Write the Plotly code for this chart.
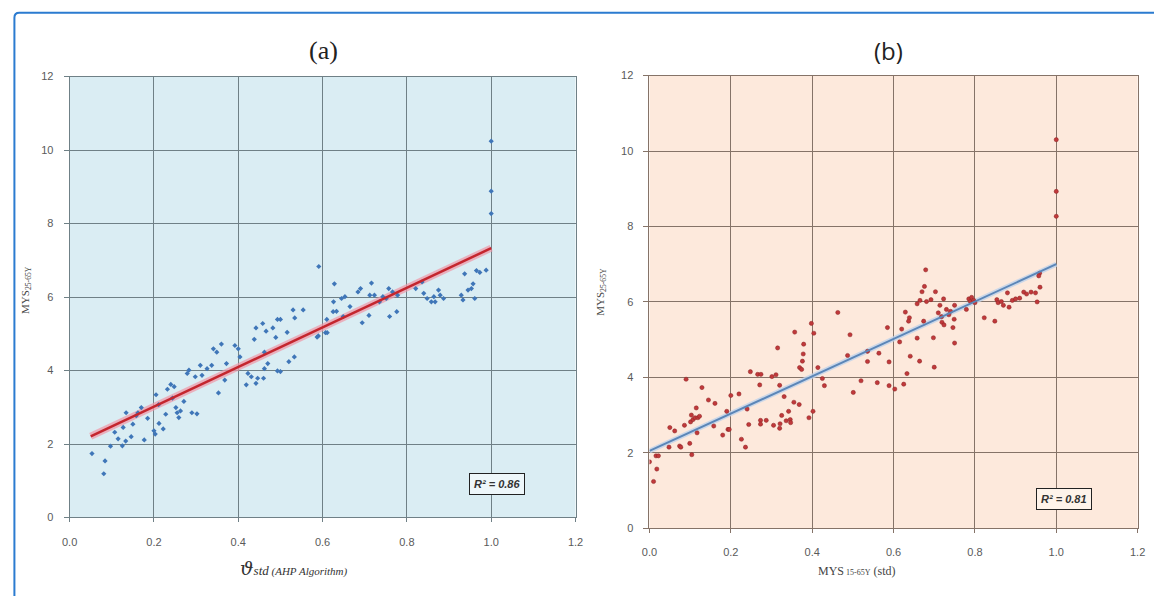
import plotly.graph_objects as go

W, H = 1154, 596

# ---------------- Panel (a) data ----------------
a_x = [0.053, 0.084, 0.081, 0.097, 0.115, 0.125, 0.133, 0.146, 0.107, 0.127, 0.134, 0.150, 0.158, 0.170,
       0.162, 0.177, 0.185, 0.200, 0.203, 0.205, 0.212, 0.222, 0.228, 0.211, 0.232, 0.240, 0.248, 0.244,
       0.252, 0.255, 0.259, 0.263, 0.271, 0.290, 0.302, 0.283, 0.279, 0.298, 0.310, 0.314, 0.326, 0.337,
       0.341, 0.349, 0.360, 0.353, 0.368, 0.372, 0.392, 0.400, 0.404, 0.423, 0.419, 0.431, 0.446, 0.442,
       0.460, 0.462, 0.470, 0.438, 0.442, 0.458, 0.466, 0.482, 0.493, 0.489, 0.493, 0.462,
       0.520, 0.533, 0.500, 0.516, 0.534, 0.530, 0.554, 0.590, 0.607, 0.625, 0.694, 0.710, 0.759, 0.776,
       0.500, 0.591, 0.628, 0.626, 0.633, 0.610, 0.611, 0.587, 0.645, 0.653, 0.665, 0.649, 0.684, 0.690,
       0.716, 0.712, 0.723, 0.735, 0.743, 0.751, 0.757, 0.766, 0.778, 0.821, 0.836, 0.840, 0.848, 0.858,
       0.864, 0.867, 0.875, 0.879, 0.887, 0.929, 0.933, 0.937, 0.945, 0.953, 0.957, 0.961, 0.965, 0.973,
       0.988, 1.000, 1.000, 1.000]
a_y = [1.74, 1.54, 1.19, 1.94, 2.14, 1.95, 2.08, 2.20, 2.32, 2.45, 2.85, 2.54, 2.77, 2.99,
       2.85, 2.11, 2.70, 2.36, 2.27, 3.34, 2.56, 2.41, 2.81, 3.07, 3.49, 3.62, 3.56, 3.25,
       2.99, 2.85, 2.72, 2.90, 3.16, 2.85, 2.82, 4.01, 3.92, 3.83, 4.14, 3.87, 4.05, 4.14,
       4.59, 4.50, 4.72, 3.39, 3.74, 4.19, 4.68, 4.59, 4.37, 3.92, 3.61, 3.83, 3.79, 3.65,
       3.79, 4.05, 4.19, 4.85, 5.16, 5.28, 5.07, 5.16, 5.39, 4.90, 3.99, 4.50,
       4.24, 4.37, 3.97, 5.04, 5.43, 5.65, 5.65, 4.94, 5.03, 5.60, 5.30, 5.50, 5.47, 5.60,
       5.39, 6.83, 6.36, 5.87, 5.61, 5.39, 5.03, 4.91, 5.96, 6.01, 5.74, 5.47, 6.14, 6.23,
       6.38, 6.05, 6.05, 5.87, 6.01, 5.96, 6.23, 6.14, 6.05, 6.23, 6.41, 6.10, 5.96, 5.87,
       6.01, 5.87, 6.19, 6.05, 5.96, 6.05, 5.92, 6.63, 6.19, 6.23, 6.36, 5.96, 6.72, 6.67,
       6.73, 10.24, 8.88, 8.27]
trend_a_x = [0.05, 1.0]
trend_a_y = [2.21, 7.33]

# ---------------- Panel (b) data ----------------
b_x = [0.000, 0.010, 0.018, 0.016, 0.022, 0.048, 0.050, 0.062, 0.074, 0.077, 0.086, 0.090, 0.099, 0.104,
       0.101, 0.103, 0.107, 0.112, 0.119, 0.123, 0.115, 0.117, 0.129, 0.145, 0.158, 0.161, 0.180, 0.190,
       0.193, 0.196, 0.200, 0.220, 0.226, 0.236, 0.240, 0.248, 0.244, 0.266, 0.274, 0.271, 0.273, 0.273,
       0.287, 0.301, 0.305, 0.311, 0.315, 0.320, 0.320, 0.321, 0.325, 0.331, 0.336, 0.342, 0.346, 0.347,
       0.355, 0.357, 0.368, 0.369, 0.374, 0.376, 0.378, 0.379, 0.392, 0.402, 0.398, 0.404, 0.414, 0.425,
       0.430, 0.463, 0.493, 0.487, 0.501,
       0.520, 0.536, 0.536, 0.560, 0.564, 0.585, 0.589, 0.589, 0.603, 0.615, 0.620, 0.625, 0.629, 0.633,
       0.639, 0.641, 0.637, 0.658, 0.658, 0.664, 0.665, 0.670, 0.676, 0.679, 0.674, 0.681, 0.692, 0.698,
       0.700, 0.703, 0.710, 0.714, 0.719, 0.718, 0.723, 0.724, 0.730, 0.736, 0.740, 0.746, 0.750, 0.749,
       0.750, 0.779, 0.785, 0.789, 0.792, 0.797, 0.800, 0.823, 0.849, 0.854, 0.857, 0.865, 0.870, 0.880,
       0.884, 0.892, 0.900, 0.910, 0.920, 0.927, 0.938, 0.949, 0.953, 0.959, 0.960, 0.957, 1.000, 1.000,
       1.000]
b_y = [1.76, 1.24, 1.57, 1.92, 1.92, 2.15, 2.67, 2.58, 2.18, 2.15, 2.73, 3.95, 2.25, 1.95,
       2.82, 3.00, 2.88, 2.93, 2.93, 2.97, 3.19, 2.53, 3.73, 3.40, 2.71, 3.31, 2.47, 3.10,
       2.62, 2.62, 3.52, 3.56, 2.36, 2.15, 3.16, 4.15, 2.75, 4.08, 4.08, 3.80, 2.86, 2.76,
       2.86, 4.02, 2.73, 4.07, 4.78, 3.79, 2.65, 2.77, 2.99, 3.49, 2.85, 3.10, 2.88, 2.80,
       3.34, 5.20, 3.28, 4.26, 4.21, 4.43, 4.62, 4.88, 2.93, 3.10, 5.43, 5.17, 4.26, 3.97,
       3.78, 5.72, 5.13, 4.58, 3.60,
       3.91, 4.69, 4.42, 3.86, 4.64, 5.32, 4.41, 3.78, 3.69, 4.94, 5.28, 3.82, 5.73, 4.10,
       5.58, 4.56, 5.49, 5.04, 5.95, 4.43, 6.04, 6.27, 6.41, 6.85, 5.49, 6.01, 6.06, 5.05,
       4.27, 6.27, 5.71, 5.91, 5.46, 5.61, 6.08, 5.39, 5.80, 5.66, 5.75, 5.32, 5.91, 5.54,
       4.91, 5.80, 6.08, 6.01, 6.12, 6.04, 5.98, 5.58, 5.49, 6.06, 5.98, 6.01, 5.91, 6.24,
       5.86, 6.04, 6.08, 6.10, 6.26, 6.21, 6.26, 6.24, 6.00, 6.76, 6.39, 6.69, 10.30, 8.93,
       8.27]
trend_b_x = [0.0, 1.0]
trend_b_y = [2.05, 7.00]

x_ticks = [0.0, 0.2, 0.4, 0.6, 0.8, 1.0, 1.2]
x_tick_text = ["0.0", "0.2", "0.4", "0.6", "0.8", "1.0", "1.2"]
y_ticks = [0, 2, 4, 6, 8, 10, 12]

fig = go.Figure()

# panel (a)
fig.add_trace(go.Scatter(x=trend_a_x, y=trend_a_y, mode="lines",
                         line=dict(color="rgba(240,150,165,0.7)", width=7),
                         xaxis="x", yaxis="y", hoverinfo="skip", showlegend=False))
fig.add_trace(go.Scatter(x=a_x, y=a_y, mode="markers",
                         marker=dict(symbol="diamond", size=4, color="#3f76b8"),
                         xaxis="x", yaxis="y", showlegend=False))
fig.add_trace(go.Scatter(x=trend_a_x, y=trend_a_y, mode="lines",
                         line=dict(color="#c4262e", width=2.5),
                         xaxis="x", yaxis="y", showlegend=False))

# panel (b)
fig.add_trace(go.Scatter(x=trend_b_x, y=trend_b_y, mode="lines",
                         line=dict(color="rgba(190,210,235,0.8)", width=5),
                         xaxis="x2", yaxis="y2", hoverinfo="skip", showlegend=False))
fig.add_trace(go.Scatter(x=b_x, y=b_y, mode="markers",
                         marker=dict(symbol="circle", size=4.2, color="#c0393b",
                                     line=dict(width=0.5, color="#8a2020")),
                         xaxis="x2", yaxis="y2", showlegend=False))
fig.add_trace(go.Scatter(x=trend_b_x, y=trend_b_y, mode="lines",
                         line=dict(color="#5b86b8", width=2),
                         xaxis="x2", yaxis="y2", showlegend=False))

tickfont = dict(family="Liberation Sans, Arial, sans-serif", size=11, color="#5a5a5a")


def xax(domain, anchor, grid):
    return dict(domain=domain, anchor=anchor, range=[0, 1.2], tickvals=x_ticks, ticktext=x_tick_text,
                showgrid=True, gridcolor=grid, gridwidth=1, zeroline=False,
                showline=True, linecolor=grid, linewidth=1, mirror=True,
                ticks="outside", ticklen=4, tickcolor=grid, tickfont=tickfont,
                ticklabelstandoff=10, fixedrange=True)


def yax(domain, anchor, grid):
    return dict(domain=domain, anchor=anchor, range=[0, 12], tickvals=y_ticks,
                showgrid=True, gridcolor=grid, gridwidth=1, zeroline=False,
                showline=True, linecolor=grid, linewidth=1, mirror=True,
                ticks="outside", ticklen=5, tickcolor=grid, tickfont=tickfont,
                ticklabelstandoff=8, fixedrange=True)


grid_a = "#6f8086"
grid_b = "#857368"

fig.update_layout(
    width=W, height=H,
    margin=dict(l=0, r=0, t=0, b=0),
    paper_bgcolor="white",
    plot_bgcolor="rgba(0,0,0,0)",
    xaxis=xax([62.5 / W, 575.5 / W], "y", grid_a),
    yaxis=yax([(H - 522) / H, (H - 72) / H], "x", grid_a),
    xaxis2=xax([650.5 / W, 1145.5 / W], "y2", grid_b),
    yaxis2=yax([(H - 533) / H, (H - 71) / H], "x2", grid_b),
    showlegend=False,
)

# plot area backgrounds
fig.add_shape(type="rect", xref="x domain", yref="y domain", x0=0, x1=1, y0=0, y1=1,
              fillcolor="#daedf3", line=dict(width=0), layer="below")
fig.add_shape(type="rect", xref="x2 domain", yref="y2 domain", x0=0, x1=1, y0=0, y1=1,
              fillcolor="#fde9dc", line=dict(width=0), layer="below")

# blue outer frame
fig.add_shape(type="path", xref="paper", yref="paper",
              path=f"M {6.5 / W} -0.05 L {6.5 / W} {1 - 12 / H} Q {6.5 / W} {1 - 7 / H} {11.5 / W} {1 - 7 / H} L 1.05 {1 - 7 / H}",
              line=dict(color="#2b7bd0", width=2))

ann = dict(xref="paper", yref="paper", showarrow=False, xanchor="center", yanchor="middle")

# titles
fig.add_annotation(x=320 / W, y=1 - 45 / H, text="(a)",
                   font=dict(family="Liberation Serif, DejaVu Serif, serif", size=26, color="#222"), **ann)
fig.add_annotation(x=893 / W, y=1 - 45 / H, text="(b)",
                   font=dict(family="Open Sans, Liberation Sans, sans-serif", size=24, color="#222"), **ann)

# axis titles
fig.add_annotation(x=290 / W, y=1 - 574 / H,
                   text="<i><span style='font-family:DejaVu Serif;font-size:19px'>ϑ</span>"
                        "<span style='font-size:13px'>std</span>"
                        "<span style='font-size:11px'> (AHP Algorithm)</span></i>",
                   font=dict(family="Liberation Serif, DejaVu Serif, serif", size=13, color="#333"), **ann)
fig.add_annotation(x=860 / W, y=1 - 577 / H,
                   text="MYS<span style='font-size:8px'> 15-65Y</span> (std)",
                   font=dict(family="Liberation Serif, DejaVu Serif, serif", size=12, color="#444"), **ann)
fig.add_annotation(x=18 / W, y=1 - 290 / H, textangle=-90, text="MYS<sub>25-65Y</sub>",
                   font=dict(family="Liberation Serif, DejaVu Serif, serif", size=11, color="#444"), **ann)
fig.add_annotation(x=601 / W, y=1 - 292 / H, textangle=-90, text="MYS<sub>25-65Y</sub>",
                   font=dict(family="Liberation Serif, DejaVu Serif, serif", size=11, color="#444"), **ann)

# R^2 boxes
fig.add_annotation(x=1.014, y=0.9, xref="x", yref="y", showarrow=False,
                   text="<b><i>R² = 0.86</i></b>", bgcolor="#eef7fa", bordercolor="#222", borderwidth=1,
                   borderpad=4, font=dict(family="Liberation Sans, Arial, sans-serif", size=11, color="#333"))
fig.add_annotation(x=1.019, y=0.78, xref="x2", yref="y2", showarrow=False,
                   text="<b><i>R² = 0.81</i></b>", bgcolor="#fef3ea", bordercolor="#222", borderwidth=1,
                   borderpad=4, font=dict(family="Liberation Sans, Arial, sans-serif", size=11, color="#333"))

fig.write_html("out.html", config={"displayModeBar": False, "staticPlot": True},
               post_script="document.body.style.margin='0';document.body.style.overflow='hidden';")
